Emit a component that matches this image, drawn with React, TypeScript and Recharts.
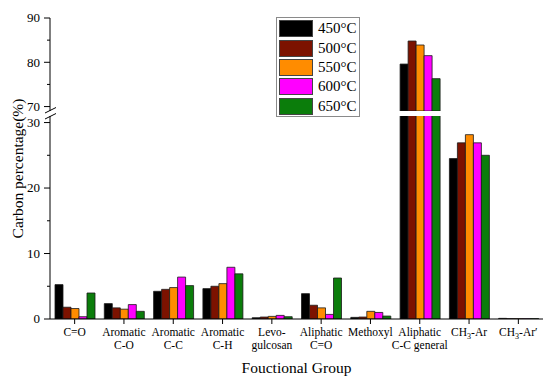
import React from "react";
import { BarChart, Bar, XAxis, YAxis, Legend, Label } from "recharts";

const FONT = "'Liberation Serif', 'Times New Roman', serif";

// categories along the x axis ("\n" = line break in the tick label)
const categories = [
    "C=O",
    "Aromatic\nC-O",
    "Aromatic\nC-C",
    "Aromatic\nC-H",
    "Levo-\ngulcosan",
    "Aliphatic\nC=O",
    "Methoxyl",
    "Aliphatic\nC-C general",
    "CH3-Ar",
    "CH3-Ar′",
];

const seriesKeys = ["t450", "t500", "t550", "t600", "t650"];
const seriesNames = ["450°C", "500°C", "550°C", "600°C", "650°C"];
const seriesColors = ["#000000", "#7c1200", "#ff8c00", "#ff00ff", "#0b7d0b"];

const t450 = [5.25, 2.35, 4.23, 4.64, 0.2, 3.87, 0.25, 79.6, 24.5, 0.1];
const t500 = [1.8, 1.7, 4.53, 5.0, 0.3, 2.1, 0.3, 84.8, 26.9, 0.05];
const t550 = [1.6, 1.5, 4.8, 5.4, 0.4, 1.7, 1.17, 83.9, 28.15, 0.05];
const t600 = [0.35, 2.2, 6.4, 7.9, 0.55, 0.7, 1.0, 81.5, 26.9, 0.05];
const t650 = [3.97, 1.17, 5.1, 6.9, 0.35, 6.26, 0.45, 76.3, 25.0, 0.05];

const lowerDomain = [0, 31];
const lowerTicks = [0, 5, 10, 15, 20, 25, 30];
const upperDomain = [69, 90];
const upperTicks = [70, 75, 80, 85, 90];

const series = [t450, t500, t550, t600, t650];

const rows = categories.map((name, i) => {
    const r: any = { name };
    seriesKeys.forEach((k, j) => (r[k] = series[j][i]));
    return r;
});

// upper part of the broken axis only shows values that reach it
const upperRows = rows.map((r) => {
    const o: any = { name: r.name };
    seriesKeys.forEach((k) => (o[k] = r[k] >= upperDomain[0] ? r[k] : null));
    return o;
});

function withSub(line: string) {
    if (line.startsWith("CH3")) {
        return (
            <>
                CH
                <tspan fontSize={8} dy={3}>3</tspan>
                <tspan dy={-3}>{line.slice(3)}</tspan>
            </>
        );
    }
    return line;
}

function XTick(props: any) {
    const { x, y, payload } = props;
    const lines = String(payload.value).split("\n");
    return (
        <g transform={`translate(${x},${y})`}>
            <text textAnchor="middle" fontSize={11.5} fontFamily={FONT} fill="#000">
                {lines.map((l, i) => (
                    <tspan key={i} x={0} dy={i === 0 ? 10 : 13}>
                        {withSub(l)}
                    </tspan>
                ))}
            </text>
        </g>
    );
}

function YTick(props: any) {
    const { x, y, payload } = props;
    const v = payload.value;
    const major = v % 10 === 0;
    return (
        <g>
            <line x1={x - (major ? 6 : 3)} x2={x} y1={y} y2={y} stroke="#000" />
            {major && (
                <text x={x - 10} y={y} dy="0.34em" textAnchor="end" fontSize={13} fontFamily={FONT} fill="#000">
                    {v}
                </text>
            )}
        </g>
    );
}

function LegendBox(props: any) {
    const items = props.payload || [];
    return (
        <div style={{ border: "1px solid #8a8a8a", background: "#fff", padding: "1px 2px 0 2px", width: 78 }}>
            {items.map((e: any) => (
                <div key={e.value} style={{ display: "flex", alignItems: "center", height: 19.4 }}>
                    <span
                        style={{
                            display: "inline-block",
                            width: 34,
                            height: 17,
                            background: e.color,
                            border: "1px solid #444",
                            boxSizing: "border-box",
                        }}
                    />
                    <span style={{ marginLeft: 5, fontSize: 15, fontFamily: FONT, color: "#000", lineHeight: "17px" }}>
                        {e.value}
                    </span>
                </div>
            ))}
        </div>
    );
}

function renderBars() {
    return seriesKeys.map((k, i) => (
        <Bar
            key={k}
            dataKey={k}
            name={seriesNames[i]}
            fill={seriesColors[i]}
            stroke="#1a1a1a"
            strokeWidth={0.8}
            isAnimationActive={false}
        />
    ));
}

export default function App() {
    return (
        <div style={{ position: "absolute", left: 0, top: 0, width: 550, height: 385, background: "#fff" }}>
            <div style={{ position: "absolute", left: 0, top: 0 }}>
                <BarChart
                    width={550}
                    height={385}
                    data={rows}
                    margin={{ top: 116, right: 7, bottom: 0, left: 0 }}
                    barSize={8}
                    barGap={0}
                >
                    <XAxis
                        dataKey="name"
                        height={66}
                        interval={0}
                        tick={<XTick />}
                        tickSize={5}
                        axisLine={{ stroke: "#000" }}
                        tickLine={{ stroke: "#000" }}
                    >
                        <Label
                            value="Fouctional Group"
                            position="insideBottom"
                            offset={12}
                            style={{ fontSize: 15.5, fill: "#000", fontFamily: FONT }}
                        />
                    </XAxis>
                    <YAxis
                        width={50}
                        domain={lowerDomain}
                        ticks={lowerTicks}
                        allowDataOverflow
                        interval={0}
                        tick={<YTick />}
                        tickSize={0}
                        tickMargin={0}
                        tickLine={false}
                        axisLine={{ stroke: "#000" }}
                    >
                        <Label
                            content={() => (
                                <text
                                    x={23}
                                    y={168.5}
                                    transform="rotate(-90 23 168.5)"
                                    textAnchor="middle"
                                    fontSize={15.5}
                                    fontFamily={FONT}
                                    fill="#000"
                                >
                                    Carbon percentage(%)
                                </text>
                            )}
                        />
                    </YAxis>
                    {renderBars()}
                </BarChart>
            </div>
            <div style={{ position: "absolute", left: 0, top: 0 }}>
                <BarChart
                    width={550}
                    height={385}
                    data={upperRows}
                    margin={{ top: 18, right: 7, bottom: 274, left: 0 }}
                    barSize={8}
                    barGap={0}
                >
                    <XAxis dataKey="name" hide />
                    <YAxis
                        width={50}
                        domain={upperDomain}
                        ticks={upperTicks}
                        allowDataOverflow
                        interval={0}
                        tick={<YTick />}
                        tickSize={0}
                        tickMargin={0}
                        tickLine={false}
                        axisLine={{ stroke: "#000" }}
                    />
                    {renderBars()}
                    <Legend
                        layout="vertical"
                        align="center"
                        verticalAlign="middle"
                        content={<LegendBox />}
                        wrapperStyle={{ left: 276, top: 17, width: "auto", height: "auto" }}
                    />
                </BarChart>
            </div>
            {/* axis break marks */}
            <svg width={550} height={385} style={{ position: "absolute", left: 0, top: 0, pointerEvents: "none" }}>
                <line x1={45} y1={113} x2={56} y2={107.5} stroke="#000" strokeWidth={1} />
                <line x1={45} y1={119} x2={56} y2={113.5} stroke="#000" strokeWidth={1} />
            </svg>
        </div>
    );
}
